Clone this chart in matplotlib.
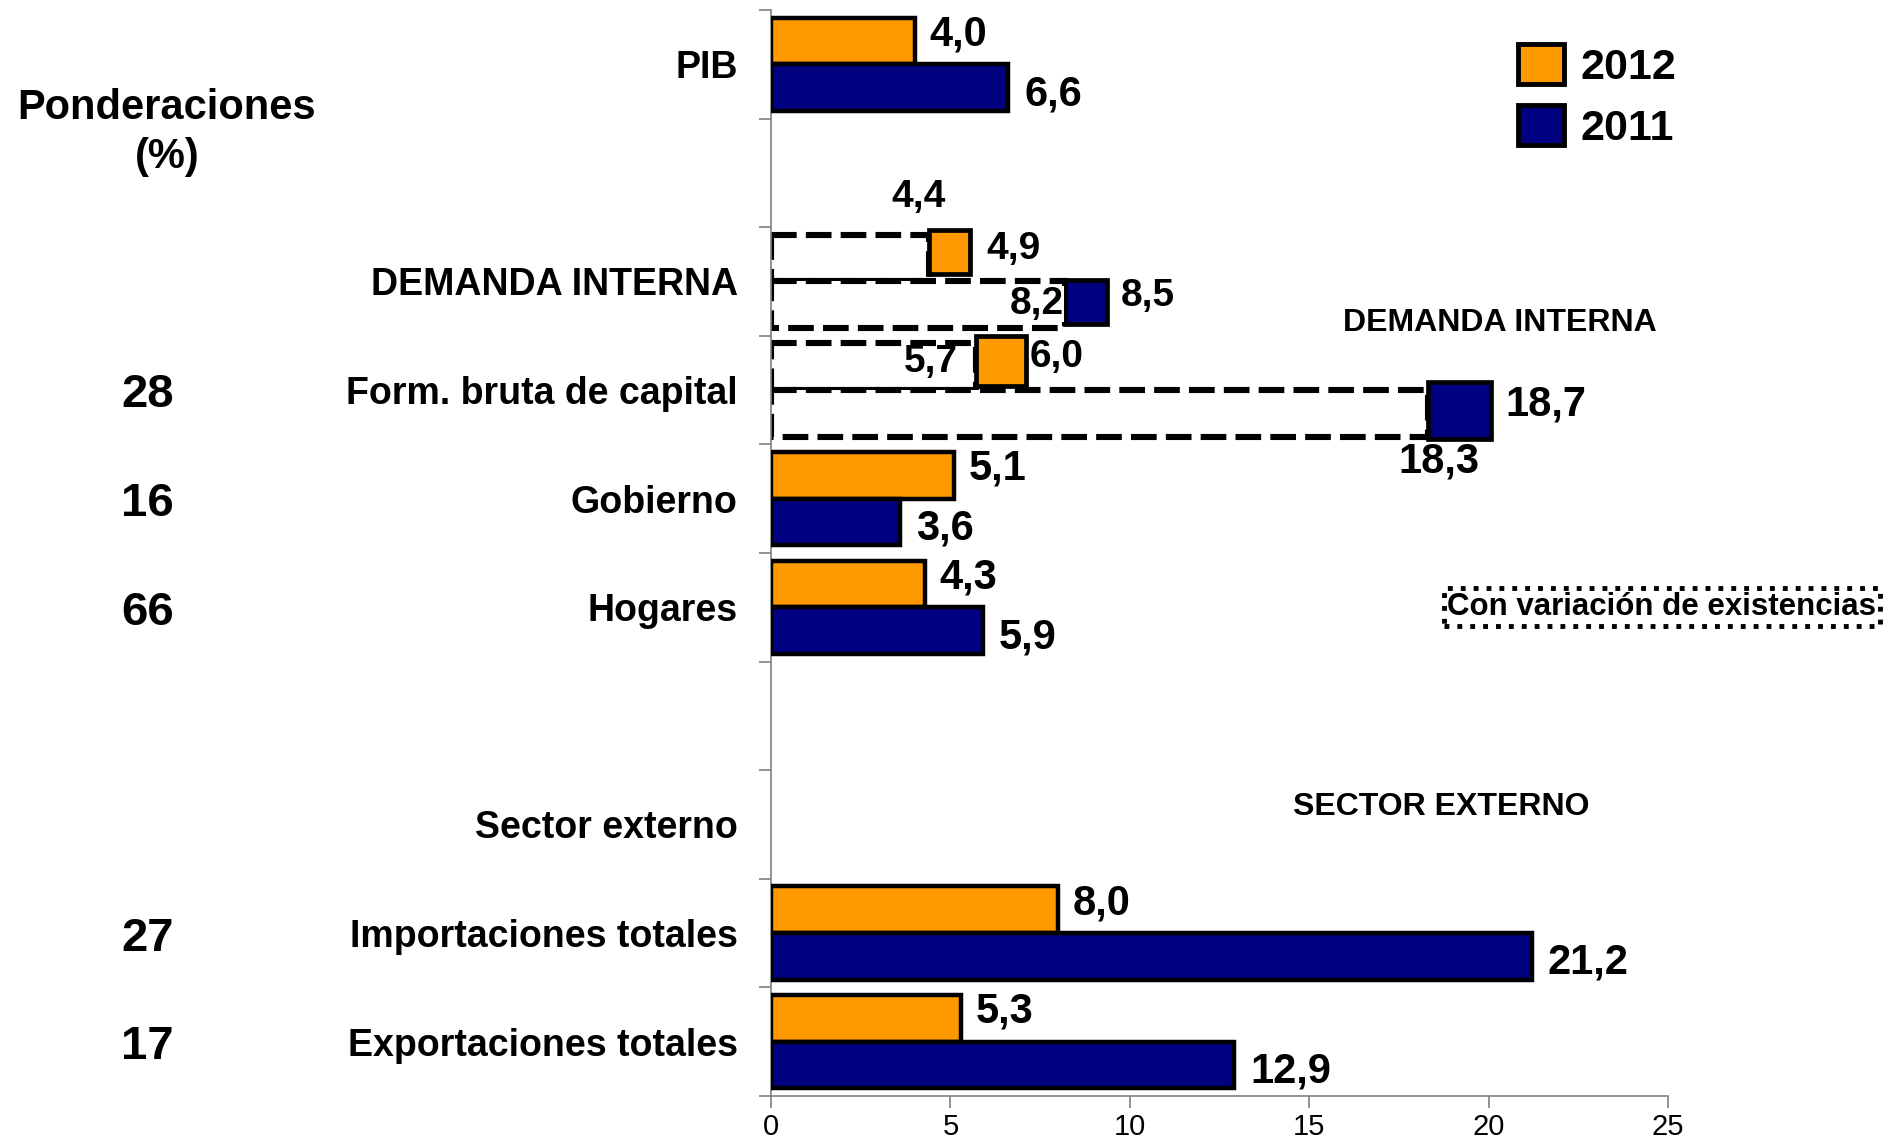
import numpy as np
import matplotlib
matplotlib.use("Agg")
import matplotlib.pyplot as plt
from matplotlib.patches import Patch
from matplotlib.transforms import blended_transform_factory

plt.rcParams['font.family'] = ['Liberation Sans', 'DejaVu Sans']
plt.rcParams['font.weight'] = 'bold'

# categories, top to bottom
categories = ['PIB', '', 'DEMANDA INTERNA', 'Form. bruta de capital', 'Gobierno',
              'Hogares', '', 'Sector externo', 'Importaciones totales',
              'Exportaciones totales']
ponderaciones = ['', '', '', '28', '16', '66', '', '', '27', '17']

# solid bars (nan = no bar)
v2012 = [4.0, np.nan, np.nan, np.nan, 5.1, 4.3, np.nan, np.nan, 8.0, 5.3]
v2011 = [6.6, np.nan, np.nan, np.nan, 3.6, 5.9, np.nan, np.nan, 21.2, 12.9]

# demanda interna / formacion bruta: dashed bars and square markers
rows_ve = [2, 3]
con_2012 = [4.4, 5.7]
con_2011 = [8.2, 18.3]
sin_2012 = [4.9, 6.0]
sin_2011 = [8.5, 18.7]

orange = '#FF9900'
navy = '#000080'

fig = plt.figure(figsize=(18.95, 11.42), dpi=100)
ax = fig.add_axes([0.4069, 0.0403, 0.4734, 0.9510])

y = np.arange(len(categories))
h = 0.43
off = 0.215

ax.barh(y - off, v2012, height=h, color=orange, edgecolor='black', lw=3.2, zorder=3)
ax.barh(y + off, v2011, height=h, color=navy, edgecolor='black', lw=3.2, zorder=3)

# dashed bars
ry = np.array(rows_ve)
ax.barh(ry - off, con_2012, height=h, color='white', edgecolor='black', lw=4.4,
        ls=(0, (4.2, 1.5)), zorder=2)
ax.barh(ry + off, con_2011, height=h, color='white', edgecolor='black', lw=4.4,
        ls=(0, (4.2, 1.5)), zorder=2)

# square markers (sizes are styling only)
sq_w_2012 = [1.15, 1.4]
sq_w_2011 = [1.15, 1.75]
sq_h_2012 = [0.40, 0.46]
sq_h_2011 = [0.41, 0.53]
ax.barh(ry - 0.27, sq_w_2012, left=con_2012, height=sq_h_2012, color=orange,
        edgecolor='black', lw=3.4, zorder=4)
ax.barh(ry + 0.19, sq_w_2011, left=con_2011, height=sq_h_2011, color=navy,
        edgecolor='black', lw=3.4, zorder=4)

fmt = lambda v: f'{v:.1f}'.replace('.', ',')

# value labels for solid bars
for i in range(len(categories)):
    if not np.isnan(v2012[i]):
        ax.text(v2012[i] + 0.4, y[i] - off - 0.06, fmt(v2012[i]), fontsize=30,
                va='center', ha='left', zorder=5)
    if not np.isnan(v2011[i]):
        ax.text(v2011[i] + 0.45, y[i] + off + 0.06, fmt(v2011[i]), fontsize=30,
                va='center', ha='left', zorder=5)

# labels for squares
for k, r in enumerate(rows_ve):
    ax.text(con_2012[k] + sq_w_2012[k] + (0.45 if k == 0 else 0.1), r - 0.3,
            fmt(sin_2012[k]), fontsize=28, va='center', ha='left', zorder=5)
    ax.text(con_2011[k] + sq_w_2011[k] + 0.4, r + 0.13, fmt(sin_2011[k]),
            fontsize=28 if k == 0 else 30, va='center', ha='left', zorder=5)

# labels for dashed bars
ax.text(con_2012[0] - 0.3, rows_ve[0] - 0.78, fmt(con_2012[0]), fontsize=28,
        ha='center', va='center', zorder=5)
ax.text(con_2011[0] - 0.05, rows_ve[0] + 0.21, fmt(con_2011[0]), fontsize=28,
        ha='right', va='center', zorder=5,
        bbox=dict(fc='white', ec='none', pad=0))
ax.text(con_2012[1] - 0.5, rows_ve[1] - 0.26, fmt(con_2012[1]), fontsize=28,
        ha='right', va='center', zorder=5)
ax.text(con_2011[1] + 0.3, rows_ve[1] + 0.66, fmt(con_2011[1]), fontsize=30,
        ha='center', va='center', zorder=5)

ax.set_xlim(0, 25)
ax.set_ylim(len(categories) - 0.5, -0.5)
ax.set_xticks(np.arange(0, 26, 5))
ax.set_yticks(y)
ax.set_yticklabels(categories, fontsize=27, fontweight='bold')
ax.set_yticks(np.arange(-0.5, len(categories), 1), minor=True)
ax.tick_params(axis='y', which='major', length=0, pad=24)
ax.tick_params(axis='y', which='minor', length=8.5, width=1.2, color='#808080')
ax.tick_params(axis='x', length=8.5, width=1.2, color='#808080', pad=4)
for lab in ax.get_xticklabels():
    lab.set_family(['Liberation Sans Narrow', 'DejaVu Sans Condensed', 'Liberation Sans'])
    lab.set_fontweight('normal')
    lab.set_fontsize(21)
for s in ['top', 'right']:
    ax.spines[s].set_visible(False)
for s in ['left', 'bottom']:
    ax.spines[s].set_color('#808080')
    ax.spines[s].set_linewidth(1.2)

# ponderaciones column
tr = blended_transform_factory(fig.transFigure, ax.transData)
fig.text(0.088, 0.63, 'Ponderaciones\n(%)', fontsize=30, ha='center', va='center',
         transform=tr, linespacing=1.3)
for i, p in enumerate(ponderaciones):
    if p:
        fig.text(0.078, y[i] + 0.05, p, fontsize=34, ha='center', va='center',
                 transform=tr)

# right-side annotations
fig.text(0.7915, 1 - 323 / 1142, 'DEMANDA INTERNA', fontsize=23, ha='center', va='center')
fig.text(0.7605, 1 - 807 / 1142, 'SECTOR EXTERNO', fontsize=23, ha='center', va='center')
fig.text(0.877, 1 - 607 / 1142, 'Con variación de existencias', fontsize=22.5,
         ha='center', va='center',
         bbox=dict(boxstyle='square,pad=0.12', fc='white', ec='black', ls=':', lw=3.5))

handles = [Patch(fc=orange, ec='black', lw=3.5), Patch(fc=navy, ec='black', lw=3.5)]
fig.legend(handles, ['2012', '2011'], loc='upper left',
           bbox_to_anchor=(0.799, 0.965), frameon=False, fontsize=31,
           handlelength=1.05, handleheight=1.05, handletextpad=0.4,
           labelspacing=0.4, borderaxespad=0, borderpad=0.1)

fig.savefig('out.png', dpi=100)
